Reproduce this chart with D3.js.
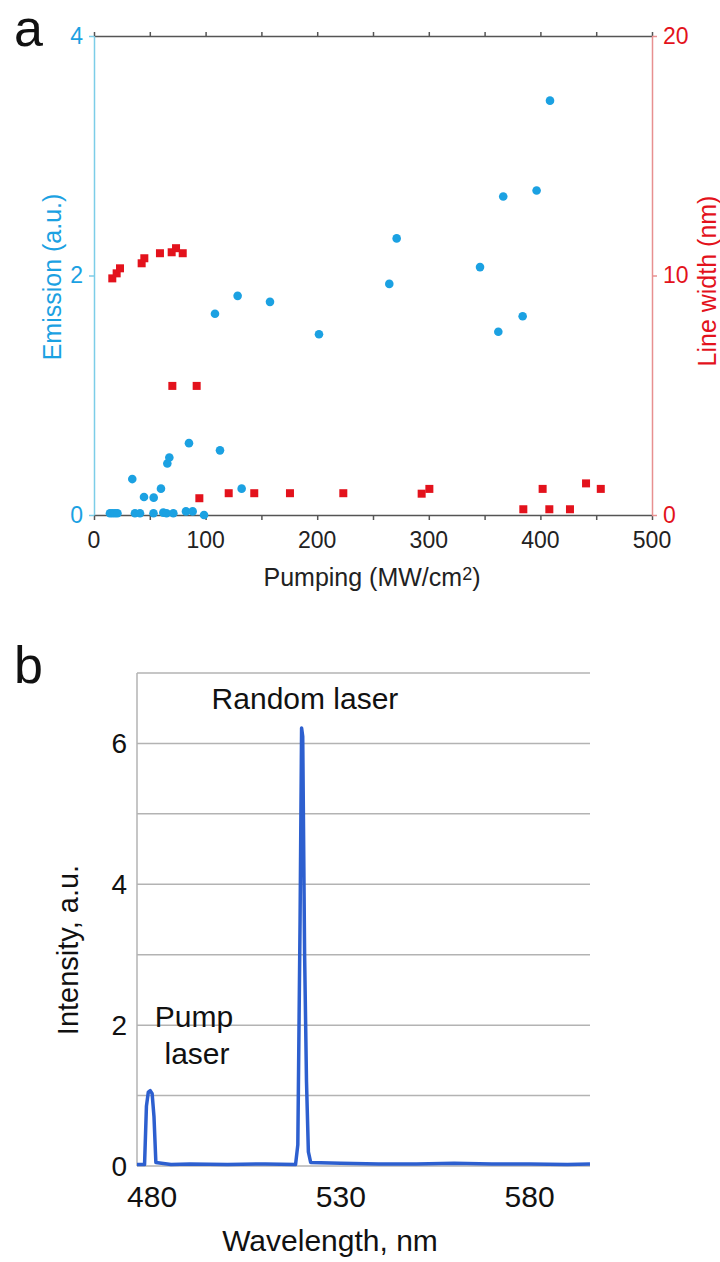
<!DOCTYPE html>
<html>
<head>
<meta charset="utf-8">
<script src="https://cdn.jsdelivr.net/npm/d3@7"></script>
<style>
  body { margin: 0; background: #fff; }
  svg { display: block; font-family: "Liberation Sans", Arial, sans-serif; }
</style>
</head>
<body>
<svg id="chart" width="720" height="1262"></svg>
<script>
// panel a: emission (blue dots, left axis) and line width (red squares, right axis)
var pumpingBlue = [14.3, 16.5, 18.8, 21.0, 34.3, 36.7, 41.2, 44.8, 53.3, 53.5, 60.0, 62.1, 65.0, 65.7, 67.5, 71.1,
                   82.4, 85.1, 88.4, 98.6, 108.4, 112.9, 128.7, 132.3, 157.7, 201.6, 264.6, 271.2, 345.9, 362.3,
                   366.7, 384.1, 396.6, 408.6]
var emission = [0.015, 0.015, 0.015, 0.015, 0.30, 0.015, 0.015, 0.15, 0.015, 0.145, 0.22, 0.02, 0.015, 0.43, 0.48, 0.015,
                0.03, 0.60, 0.03, 0.0, 1.68, 0.54, 1.83, 0.22, 1.78, 1.51, 1.93, 2.31, 2.07, 1.53,
                2.66, 1.66, 2.71, 3.46]
var pumpingRed = [16.4, 20.3, 23.3, 42.7, 45.1, 59.1, 69.6, 73.5, 79.5, 70.2, 92.0, 94.4, 120.7, 143.6, 175.6, 223.4,
                  293.6, 300.5, 384.7, 402.0, 408.0, 426.5, 440.9, 454.1]
var lineWidth = [9.88, 10.09, 10.3, 10.51, 10.72, 10.93, 10.97, 11.14, 10.93, 5.39, 5.39, 0.70, 0.91, 0.91, 0.91, 0.91,
                 0.89, 1.09, 0.24, 1.09, 0.24, 0.24, 1.32, 1.09]
var pumpTicks = [0, 100, 200, 300, 400, 500]
var pumpMinor = d3.range(0, 501, 50)
var emissionTicks = [0, 2, 4]
var widthTicks = [0, 10, 20]

// panel b: spectrum
var wavelength = [476.0, 478.0, 478.5, 479.0, 479.5, 480.0, 480.5, 481.0, 485.0, 490.0, 500.0, 510.0, 518.0,
                  518.6, 519.2, 519.6, 519.9, 520.4, 520.9, 521.4, 522.0, 530.0, 540.0, 550.0, 560.0, 570.0, 580.0, 590.0, 596.0]
var intensity = [0.02, 0.02, 0.85, 1.05, 1.07, 1.03, 0.7, 0.05, 0.02, 0.03, 0.02, 0.03, 0.02,
                 0.3, 3.5, 6.22, 6.1, 3.0, 1.2, 0.2, 0.05, 0.04, 0.03, 0.03, 0.04, 0.03, 0.03, 0.02, 0.03]
var wlTicks = [480, 530, 580]
var intTicks = [0, 2, 4, 6]
var intGrid = d3.range(0, 8)

var svg = d3.select('#chart')
var blue = '#1ba1e2'
var red = '#e3121c'

// ---------- panel a ----------
var a = { left: 94, right: 652, top: 36, bottom: 515 }
var x = d3.scaleLinear().domain([0, 500]).range([a.left, a.right])
var yE = d3.scaleLinear().domain([0, 4]).range([a.bottom, a.top])
var yW = d3.scaleLinear().domain([0, 20]).range([a.bottom, a.top])

var ga = svg.append('g')

ga.append('g')
  .attr('transform', 'translate(0,' + a.top + ')')
  .call(d3.axisTop(x).tickValues(pumpMinor).tickSize(4).tickSizeOuter(0).tickFormat(''))
  .call(function (g) { g.selectAll('path, line').attr('stroke', '#555').attr('stroke-width', 1.5) })

ga.append('g')
  .attr('transform', 'translate(0,' + a.bottom + ')')
  .call(d3.axisBottom(x).tickValues(pumpMinor).tickSize(5).tickSizeOuter(0).tickFormat(''))
  .call(function (g) { g.selectAll('path, line').attr('stroke', '#555').attr('stroke-width', 1.5) })

ga.append('g')
  .selectAll('text')
  .data(pumpTicks)
  .enter()
  .append('text')
  .attr('x', function (d) { return x(d) })
  .attr('y', a.bottom + 33)
  .attr('text-anchor', 'middle')
  .attr('font-size', 23)
  .attr('fill', '#222')
  .text(function (d) { return d })

ga.append('g')
  .attr('transform', 'translate(' + a.left + ',0)')
  .call(d3.axisLeft(yE).tickValues(emissionTicks).tickFormat(d3.format('d')).tickSize(5).tickSizeOuter(0).tickPadding(6))
  .call(function (g) {
      g.selectAll('path, line').attr('stroke', '#7ccde8').attr('stroke-width', 1.5)
      g.selectAll('text').attr('fill', blue).attr('font-size', 23).attr('font-family', null)
  })

ga.append('g')
  .attr('transform', 'translate(' + a.right + ',0)')
  .call(d3.axisRight(yW).tickValues(widthTicks).tickSize(5).tickSizeOuter(0).tickPadding(6))
  .call(function (g) {
      g.selectAll('path, line').attr('stroke', '#e89090').attr('stroke-width', 1.5)
      g.selectAll('text').attr('fill', red).attr('font-size', 23).attr('font-family', null)
  })

ga.selectAll('.dot')
  .data(d3.range(pumpingBlue.length))
  .enter()
  .append('circle')
  .attr('cx', function (i) { return x(pumpingBlue[i]) })
  .attr('cy', function (i) { return yE(emission[i]) })
  .attr('r', 4.3)
  .attr('fill', blue)

ga.selectAll('.sq')
  .data(d3.range(pumpingRed.length))
  .enter()
  .append('rect')
  .attr('x', function (i) { return x(pumpingRed[i]) - 4 })
  .attr('y', function (i) { return yW(lineWidth[i]) - 4 })
  .attr('width', 8)
  .attr('height', 8)
  .attr('fill', red)

ga.append('text')
  .attr('transform', 'translate(61,277) rotate(-90)')
  .attr('text-anchor', 'middle')
  .attr('font-size', 25)
  .attr('fill', blue)
  .text('Emission (a.u.)')

ga.append('text')
  .attr('transform', 'translate(716,281) rotate(-90)')
  .attr('text-anchor', 'middle')
  .attr('font-size', 25)
  .attr('fill', red)
  .text('Line width (nm)')

var xt = ga.append('text')
  .attr('x', 372)
  .attr('y', 586)
  .attr('text-anchor', 'middle')
  .attr('font-size', 25)
  .attr('fill', '#222')
xt.append('tspan').text('Pumping (MW/cm')
xt.append('tspan').attr('font-size', 18).attr('dy', -6).text('2')
xt.append('tspan').attr('dy', 6).text(')')

svg.append('text').attr('x', 14).attr('y', 46).attr('font-size', 52).attr('fill', '#111').text('a')

// ---------- panel b ----------
var b = { left: 137, right: 590, top: 673, bottom: 1166 }
var xb = d3.scaleLinear().domain([476, 596]).range([b.left, b.right])
var yb = d3.scaleLinear().domain([0, 7]).range([b.bottom, b.top])

var gb = svg.append('g')

gb.selectAll('.grid')
  .data(intGrid)
  .enter()
  .append('line')
  .attr('x1', b.left)
  .attr('x2', b.right)
  .attr('y1', function (d) { return yb(d) })
  .attr('y2', function (d) { return yb(d) })
  .attr('stroke', '#b3b3b3')
  .attr('stroke-width', 1.5)

gb.append('line')
  .attr('x1', b.left).attr('x2', b.left)
  .attr('y1', b.top).attr('y2', b.bottom)
  .attr('stroke', '#b3b3b3')
  .attr('stroke-width', 1.5)

gb.selectAll('.ylab')
  .data(intTicks)
  .enter()
  .append('text')
  .attr('x', b.left - 10)
  .attr('y', function (d) { return yb(d) + 10 })
  .attr('text-anchor', 'end')
  .attr('font-size', 28)
  .attr('fill', '#111')
  .text(function (d) { return d })

gb.selectAll('.xlab')
  .data(wlTicks)
  .enter()
  .append('text')
  .attr('x', function (d) { return xb(d) })
  .attr('y', b.bottom + 41)
  .attr('text-anchor', 'middle')
  .attr('font-size', 30)
  .attr('fill', '#111')
  .text(function (d) { return d })

var spec = d3.line()
  .x(function (i) { return xb(wavelength[i]) })
  .y(function (i) { return yb(intensity[i]) })

gb.append('path')
  .datum(d3.range(wavelength.length))
  .attr('d', spec)
  .attr('fill', 'none')
  .attr('stroke', '#2d5fcf')
  .attr('stroke-width', 3.5)
  .attr('stroke-linejoin', 'round')

gb.append('text')
  .attr('transform', 'translate(78,950) rotate(-90)')
  .attr('text-anchor', 'middle')
  .attr('font-size', 29)
  .attr('fill', '#111')
  .text('Intensity, a.u.')

gb.append('text')
  .attr('x', 330).attr('y', 1251)
  .attr('text-anchor', 'middle')
  .attr('font-size', 30)
  .attr('fill', '#111')
  .text('Wavelength, nm')

gb.append('text')
  .attr('x', 305).attr('y', 709)
  .attr('text-anchor', 'middle')
  .attr('font-size', 30)
  .attr('fill', '#111')
  .text('Random laser')

gb.append('text')
  .attr('x', 194).attr('y', 1027)
  .attr('text-anchor', 'middle')
  .attr('font-size', 30)
  .attr('fill', '#111')
  .text('Pump')

gb.append('text')
  .attr('x', 197).attr('y', 1064)
  .attr('text-anchor', 'middle')
  .attr('font-size', 30)
  .attr('fill', '#111')
  .text('laser')

svg.append('text').attr('x', 14).attr('y', 683).attr('font-size', 52).attr('fill', '#111').text('b')
</script>
</body>
</html>
